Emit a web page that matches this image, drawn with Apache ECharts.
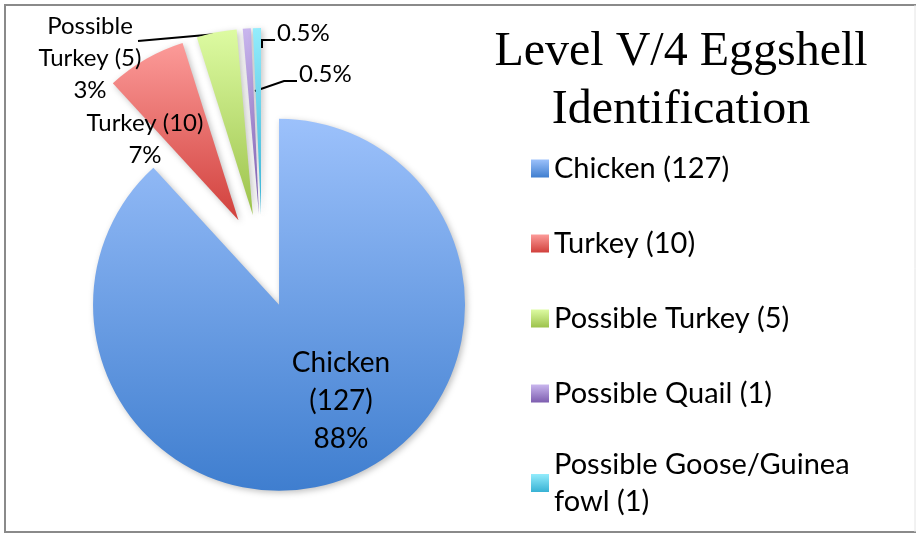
<!DOCTYPE html>
<html>
<head>
<meta charset="UTF-8">
<script src="https://cdn.jsdelivr.net/npm/echarts@6/dist/echarts.min.js"></script>
<style>
  html, body { margin: 0; padding: 0; background: #fff; }
  #eggPie { width: 916px; height: 534px; }
</style>
</head>
<body>
<div id="eggPie"></div>
<script type="text/javascript">
// Data.
const categories = ['Chicken', 'Turkey', 'Possible Turkey', 'Possible Quail', 'Possible Goose/Guinea fowl'];
const counts = [127, 10, 5, 1, 1];
const percentLabels = ['88%', '7%', '3%', '0.5%', '0.5%'];
const legendNames = ['Chicken (127)', 'Turkey (10)', 'Possible Turkey (5)', 'Possible Quail (1)', 'Possible Goose/Guinea\nfowl (1)'];

// Top / bottom colours of each slice gradient.
const topColors = ['#9cc1fb', '#fc9b99', '#ddfba2', '#c9b6ee', '#93ecfc'];
const bottomColors = ['#3f7ecf', '#d1403c', '#9cc24b', '#7d5daf', '#38b2d4'];

const chart = echarts.init(document.getElementById('eggPie'));

function grad(i) {
    return new echarts.graphic.LinearGradient(0, 0, 0, 1, [
        { offset: 0, color: topColors[i] },
        { offset: 1, color: bottomColors[i] }
    ]);
}

// Label spots (px), Excel style.
const labelSpots = [
    { x: 341, y: 401, align: 'center' },
    { x: 145, y: 139, align: 'center' },
    { x: 90, y: 58, align: 'center' },
    { x: 299, y: 74, align: 'left' },
    { x: 277, y: 33, align: 'left' }
];
const linePoints = [
    null,
    null,
    [[217, 34], [138, 41], [138, 41]],
    [[255, 91], [284, 81], [297, 81]],
    [[262, 48], [262, 40], [275, 40]]
];

function labelText(i) {
    if (i === 0) return categories[0] + '\n(' + counts[0] + ')\n' + percentLabels[0];
    if (i >= 3) return percentLabels[i];
    return categories[i].replace('Possible ', 'Possible\n') + ' (' + counts[i] + ')\n' + percentLabels[i];
}

const pieCenter = [262, 261];
const pieRadius = 186;

const option = {
    backgroundColor: '#ffffff',
    animation: false,
    title: {
        text: 'Level V/4 Eggshell\nIdentification',
        left: 681,
        top: 23,
        padding: 0,
        textAlign: 'center',
        textStyle: {
            fontFamily: 'Liberation Serif',
            fontWeight: 'normal',
            fontSize: 48,
            lineHeight: 58,
            color: '#000'
        }
    },
    legend: {
        orient: 'vertical',
        left: 531,
        top: 150,
        padding: 0,
        itemWidth: 18,
        itemHeight: 18,
        itemGap: 38,
        icon: 'rect',
        selectedMode: false,
        textStyle: {
            fontFamily: 'Lato',
            fontSize: 29,
            lineHeight: 37,
            color: '#000'
        },
        data: legendNames.map((n, i) => i === 4
            ? { name: n, textStyle: { padding: [0, 0, -37, 0] } }
            : { name: n })
    },
    graphic: [
        { type: 'line', shape: { x1: 5, y1: 5, x2: 916, y2: 5 }, style: { stroke: '#8a8a8a', lineWidth: 2 } },
        { type: 'line', shape: { x1: 5, y1: 4, x2: 5, y2: 533 }, style: { stroke: '#8a8a8a', lineWidth: 2 } },
        { type: 'line', shape: { x1: 4, y1: 532, x2: 916, y2: 532 }, style: { stroke: '#8a8a8a', lineWidth: 2 } },
        { type: 'line', shape: { x1: 915, y1: 5, x2: 915, y2: 532 }, style: { stroke: '#e4e4e4', lineWidth: 1 } }
    ],
    series: [
        // Visible slices; every slice pulled out from the centre (exploded pie).
        {
            type: 'pie',
            center: pieCenter,
            radius: pieRadius,
            startAngle: 90,
            clockwise: true,
            selectedMode: 'multiple',
            selectedOffset: 47,
            itemStyle: {
                shadowBlur: 6,
                shadowOffsetX: 2,
                shadowOffsetY: 2,
                shadowColor: 'rgba(0,0,0,0.25)'
            },
            select: { itemStyle: { borderWidth: 0 } },
            emphasis: { disabled: true },
            label: { show: false },
            labelLine: { show: false },
            data: categories.map((c, i) => ({
                name: legendNames[i],
                value: counts[i],
                selected: true,
                itemStyle: { color: grad(i) }
            }))
        },
        // Same data again, invisible, only to carry the data labels.
        {
            type: 'pie',
            center: pieCenter,
            radius: pieRadius,
            startAngle: 90,
            clockwise: true,
            silent: true,
            selectedMode: false,
            avoidLabelOverlap: false,
            itemStyle: { color: 'rgba(0,0,0,0)', borderWidth: 0 },
            emphasis: { disabled: true },
            label: {
                show: true,
                fontFamily: 'Lato',
                fontSize: 24,
                lineHeight: 32,
                color: '#000'
            },
            labelLayout: function (params) {
                const i = params.dataIndex;
                const s = labelSpots[i];
                const out = { x: s.x, y: s.y, align: s.align, verticalAlign: 'middle' };
                if (linePoints[i]) out.labelLinePoints = linePoints[i];
                return out;
            },
            data: categories.map((c, i) => ({
                name: legendNames[i],
                value: counts[i],
                label: i === 0
                    ? { position: 'inside', fontSize: 28, lineHeight: 38, formatter: labelText(i) }
                    : { position: 'outside', formatter: labelText(i) },
                labelLine: linePoints[i]
                    ? { show: true, showAbove: true, lineStyle: { color: '#000', width: 2 } }
                    : { show: false }
            }))
        }
    ]
};

chart.setOption(option);
</script>
</body>
</html>
